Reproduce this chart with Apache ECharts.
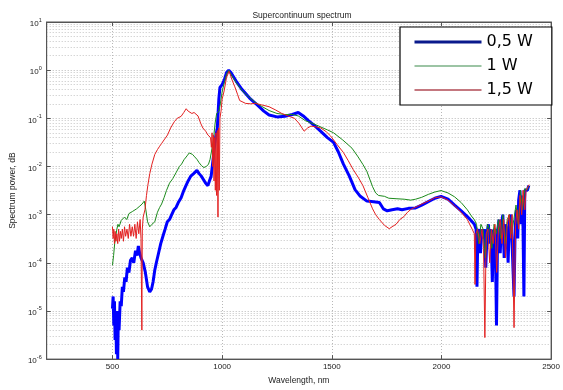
<!DOCTYPE html>
<html>
<head>
<meta charset="utf-8">
<script src="https://cdn.jsdelivr.net/npm/echarts@6/dist/echarts.min.js"></script>
<style>html,body{margin:0;padding:0;background:#fff;}#c{width:563px;height:390px;}</style>
</head>
<body>
<div id="c"></div>
<script>
const titleText = 'Supercontinuum spectrum';
const xName = 'Wavelength, nm';
const yName = 'Spectrum power, dB';
const seriesNames = ['0,5 W', '1 W', '1,5 W'];
const xTicks = [500, 1000, 1500, 2000, 2500];

const blueWl = [500,503,506,509,512,515,518,521,524,527,530,535,540,545,550,556,562,568,575,582,590,597,605,612,618,624,630,640,650,660,670,678,685,693,700,710,720,730,740,750,760,770,780,790,800,813,825,835,845,857,870,885,895,905,916,925,935,942,950,960,970,978,985,990,1000,1010,1020,1030,1040,1063,1090,1125,1160,1190,1214,1250,1286,1320,1347,1370,1392,1420,1450,1480,1508,1530,1553,1580,1606,1630,1660,1690,1717,1735,1753,1775,1800,1820,1850,1882,1910,1940,1970,1998,2030,2060,2090,2118,2140,2150,2158,2162,2166,2172,2178,2184,2190,2196,2202,2208,2214,2220,2226,2232,2238,2245,2251,2256,2262,2268,2274,2280,2286,2292,2298,2304,2310,2316,2322,2331,2336,2342,2348,2352,2358,2364,2370,2376,2380,2386,2392,2398];
const blueVal = [1.12e-5,2.0e-5,5.0e-6,1.58e-5,2.5e-6,1e-5,1.26e-6,7.9e-6,1.0e-6,1e-5,4.0e-6,1.58e-5,1.26e-5,3.16e-5,2.5e-5,5.0e-5,4.0e-5,7.9e-5,6.3e-5,1.12e-4,1.26e-4,1.0e-4,1.78e-4,1.41e-4,2.24e-4,1.58e-4,1.26e-4,1.0e-4,6.3e-5,3.16e-5,2.5e-5,2.82e-5,4.0e-5,7.1e-5,1.0e-4,1.58e-4,2.5e-4,3.55e-4,5.0e-4,7.1e-4,7.9e-4,1.0e-3,1.26e-3,1.41e-3,1.78e-3,2.24e-3,3.16e-3,4.0e-3,5.0e-3,6.3e-3,7.1e-3,8.3e-3,7.1e-3,6.3e-3,5.25e-3,4.47e-3,4.0e-3,5.0e-3,6.3e-3,1.58e-2,3.98e-2,6.3e-2,0.251,0.437,0.5,0.63,0.89,1.0,0.89,0.60,0.40,0.263,0.19,0.141,0.117,0.107,0.110,0.120,0.132,0.112,0.091,0.071,0.0537,0.0398,0.0316,0.02,0.0112,6.3e-3,3.31e-3,2.40e-3,1.91e-3,1.86e-3,1.78e-3,1.32e-3,1.20e-3,1.26e-3,1.32e-3,1.26e-3,1.35e-3,1.38e-3,1.58e-3,1.86e-3,2.19e-3,2.40e-3,2.09e-3,1.58e-3,1.20e-3,9.1e-4,7.1e-4,6.3e-4,5.0e-4,3.2e-5,4.0e-4,5.0e-4,1.58e-4,5.0e-4,3.2e-4,5.0e-4,7.9e-5,4.0e-4,6.3e-4,2.5e-4,5.0e-4,4.0e-5,4.5e-4,5.0e-4,5.0e-6,4.0e-4,7.9e-4,1.58e-4,6.3e-4,1.0e-3,1.26e-4,6.3e-4,5.0e-4,1.0e-4,7.9e-4,1.0e-3,2.5e-4,2.0e-5,5.0e-4,1.26e-3,3.2e-4,2.0e-3,3.2e-3,6.3e-4,2.5e-3,2.0e-5,3.2e-3,3.5e-3,3.2e-3,4.0e-3];

const greenWl = [500,505,510,515,520,525,530,540,546,555,565,575,582,592,600,610,617,625,635,645,652,660,670,680,693,705,715,724,735,746,760,775,791,805,815,826,840,850,857,865,875,885,895,905,916,928,938,945,951,960,968,975,985,992,1000,1010,1020,1030,1045,1063,1090,1125,1160,1214,1250,1286,1320,1347,1380,1420,1450,1480,1508,1550,1592,1620,1642,1660,1686,1700,1713,1740,1760,1793,1830,1860,1882,1910,1940,1970,1998,2030,2060,2090,2118,2140,2150,2160,2170,2180,2190,2200,2210,2220,2230,2240,2250,2260,2270,2280,2290,2300,2310,2320,2330,2340,2350,2360,2370,2380,2390,2398];
const greenVal = [8.9e-5,1.41e-4,2.5e-4,3.55e-4,5.0e-4,6.3e-4,5.6e-4,7.6e-4,7.1e-4,8.9e-4,7.9e-4,1.05e-3,1.0e-3,1.17e-3,1.12e-3,1.32e-3,1.26e-3,1.51e-3,1.66e-3,1.91e-3,1.26e-3,7.1e-4,5.6e-4,6.3e-4,7.1e-4,1.12e-3,1.41e-3,1.66e-3,2.24e-3,3.16e-3,4.5e-3,5.6e-3,7.6e-3,1.0e-2,1.12e-2,1.38e-2,1.66e-2,1.91e-2,2.0e-2,1.78e-2,1.58e-2,1.41e-2,1.20e-2,1.05e-2,9.5e-3,1.0e-2,1.12e-2,1.41e-2,2.0e-2,3.55e-2,7.9e-2,0.126,0.141,0.2,0.355,0.56,0.83,1.0,0.76,0.56,0.38,0.269,0.2,0.145,0.126,0.12,0.12,0.112,0.089,0.076,0.066,0.0575,0.05,0.0355,0.024,0.0158,0.011,7.9e-3,3.8e-3,2.82e-3,2.5e-3,2.4e-3,2.19e-3,2.14e-3,2.09e-3,2.0e-3,2.09e-3,2.29e-3,2.63e-3,2.95e-3,3.16e-3,2.82e-3,2.34e-3,1.78e-3,1.26e-3,8.9e-4,7.9e-4,6.3e-4,2.5e-4,6.3e-4,5.0e-4,1.26e-4,6.3e-4,5.0e-4,2.0e-4,6.3e-4,4.0e-4,7.9e-4,3.2e-4,1.0e-3,2.5e-4,7.9e-4,1.0e-3,4.0e-4,7.9e-4,1.58e-3,6.3e-4,3.2e-3,1.26e-3,3.5e-3,3.2e-3,4.0e-3];

const redWl = [500,503,506,509,512,516,520,524,528,532,536,540,545,550,555,560,566,572,578,584,590,596,602,608,614,620,626,630,634,636,640,648,655,661,670,680,693,705,715,724,735,751,765,782,795,813,825,836,845,852,862,872,880,890,902,912,925,935,947,951,954,957,960,963,966,969,972,975,978,981,984,987,990,995,1000,1009,1020,1032,1045,1058,1070,1080,1107,1130,1152,1180,1214,1245,1272,1300,1330,1350,1374,1390,1405,1430,1450,1475,1495,1525,1553,1575,1597,1620,1642,1665,1686,1700,1717,1740,1762,1775,1793,1810,1829,1845,1864,1890,1910,1940,1970,1998,2030,2060,2090,2118,2140,2150,2153,2157,2165,2175,2185,2192,2198,2204,2212,2220,2228,2236,2244,2252,2260,2268,2276,2284,2292,2300,2308,2316,2322,2331,2338,2345,2352,2358,2366,2372,2380,2386,2392,2400];
const redVal = [5.6e-4,3.2e-4,5.0e-4,2.5e-4,4.5e-4,2.8e-4,4.0e-4,2.5e-4,5.0e-4,2.8e-4,4.5e-4,3.2e-4,5.0e-4,2.8e-4,5.6e-4,3.55e-4,5.0e-4,3.2e-4,6.3e-4,3.55e-4,5.6e-4,3.55e-4,6.3e-4,3.2e-4,7.1e-4,4.0e-4,7.9e-4,3.2e-4,4.0e-6,5.0e-4,8.9e-4,1.26e-3,2.5e-3,4.0e-3,7.1e-3,1.12e-2,1.78e-2,2.24e-2,2.63e-2,3.0e-2,3.55e-2,4.5e-2,6.3e-2,8.5e-2,0.1,0.11,0.132,0.158,0.141,0.151,0.126,0.132,0.138,0.112,0.079,0.063,0.054,0.045,0.04,0.025,0.05,0.01,0.045,5.0e-3,0.04,3.2e-3,0.05,2.5e-3,0.056,8.9e-4,0.063,3.2e-3,0.1,0.141,0.25,0.37,0.71,0.95,0.63,0.45,0.316,0.234,0.204,0.2,0.204,0.19,0.174,0.148,0.126,0.112,0.1,0.079,0.054,0.063,0.069,0.066,0.063,0.0525,0.0427,0.0282,0.0195,0.0132,8.7e-3,6.0e-3,4.0e-3,2.24e-3,1.32e-3,1.0e-3,7.9e-4,6.0e-4,5.1e-4,5.6e-4,6.3e-4,7.9e-4,9.1e-4,1.12e-3,1.32e-3,1.48e-3,1.66e-3,1.91e-3,2.24e-3,2.34e-3,2.0e-3,1.51e-3,1.12e-3,7.9e-4,5.0e-4,4.0e-4,3.55e-5,4.0e-4,5.0e-4,2.5e-4,5.0e-4,2.0e-4,2.8e-6,4.0e-4,5.0e-4,1.0e-4,5.0e-4,2.5e-4,6.3e-4,6.3e-5,5.0e-4,7.9e-4,2.5e-4,7.9e-4,1.26e-4,6.3e-4,1.0e-3,3.2e-4,1.0e-3,4.5e-6,6.3e-4,1.26e-3,5.0e-4,2.5e-3,1.0e-3,3.2e-3,1.26e-3,3.2e-3,3.5e-3,4.2e-3];

function zip(a, b) { return a.map((x, i) => [x, b[i]]); }

const chart = echarts.init(document.getElementById('c'), null, {renderer: 'canvas'});
const gridLine = {show: true, lineStyle: {color: '#b8b8b8', type: [1, 2], width: 1}};
const supLabel = function (v) {
  const e = Math.round(Math.log10(v));
  return '{b|10}{s|' + e + '}';
};
const font = 'Liberation Sans, Arial, sans-serif';
const hidden = {color: 'rgba(0,0,0,0)', borderColor: 'rgba(0,0,0,0)', borderWidth: 0};

chart.setOption({
  animation: false,
  backgroundColor: '#ffffff',
  title: {
    text: titleText, left: 297, top: 6, textAlign: 'center',
    textStyle: {fontSize: 8.5, fontWeight: 'normal', color: '#222', fontFamily: font}
  },
  grid: {left: 39, right: 8, top: 22, bottom: 23, show: true, borderColor: '#555', borderWidth: 1, backgroundColor: 'transparent'},
  legend: {
    data: [
      {name: seriesNames[0], itemStyle: hidden, lineStyle: {color: '#0a1a8c', width: 3}},
      {name: seriesNames[1], itemStyle: hidden, lineStyle: {color: '#3a8a4a', width: 1.2}},
      {name: seriesNames[2], itemStyle: hidden, lineStyle: {color: '#b04a55', width: 1.5}}
    ],
    orient: 'vertical',
    left: 400, top: 27,
    padding: [7, 19, 7, 13],
    itemWidth: 67, itemHeight: 14, itemGap: 8,
    backgroundColor: '#fff', borderColor: '#000', borderWidth: 1.2,
    textStyle: {fontSize: 16, color: '#000', fontFamily: 'DejaVu Sans, sans-serif'},
    selectedMode: false
  },
  xAxis: [{
    type: 'value', min: 200, max: 2500,
    name: xName, nameLocation: 'middle', nameGap: 16,
    nameTextStyle: {fontSize: 8.5, color: '#222', fontFamily: font},
    axisLine: {show: true, lineStyle: {color: '#555'}},
    axisTick: {show: true, inside: true, length: 4, customValues: xTicks, lineStyle: {color: '#555'}},
    axisLabel: {customValues: xTicks, formatter: v => String(v), fontSize: 8, color: '#222', margin: 4, fontFamily: font},
    splitLine: gridLine
  }, {
    type: 'value', min: 200, max: 2500, position: 'top',
    axisLine: {show: true, lineStyle: {color: '#555'}},
    axisTick: {show: true, inside: true, length: 4, customValues: xTicks, lineStyle: {color: '#555'}},
    axisLabel: {show: false, customValues: xTicks},
    splitLine: {show: false}
  }],
  yAxis: [{
    type: 'log', logBase: 10, min: 1e-6, max: 10,
    name: yName, nameLocation: 'middle', nameGap: 24,
    nameTextStyle: {fontSize: 8.5, color: '#222', fontFamily: font},
    axisLine: {show: true, lineStyle: {color: '#555'}},
    axisTick: {show: true, inside: true, length: 4, lineStyle: {color: '#555'}},
    minorTick: {show: false, splitNumber: 9},
    axisLabel: {
      formatter: supLabel, margin: 5, color: '#222',
      rich: {
        b: {fontSize: 8, fontFamily: font, color: '#222', verticalAlign: 'bottom', lineHeight: 12},
        s: {fontSize: 5.5, fontFamily: font, color: '#222', verticalAlign: 'bottom', lineHeight: 12, padding: [0, 0, 5, 0]}
      }
    },
    splitLine: gridLine,
    minorSplitLine: {show: true, lineStyle: {color: '#c4c4c4', type: [1, 2], width: 1}}
  }, {
    type: 'log', logBase: 10, min: 1e-6, max: 10, position: 'right',
    axisLine: {show: true, lineStyle: {color: '#555'}},
    axisTick: {show: true, inside: true, length: 4, lineStyle: {color: '#555'}},
    axisLabel: {show: false},
    splitLine: {show: false}
  }],
  series: [{
    name: seriesNames[0], type: 'line', data: zip(blueWl, blueVal),
    symbol: 'none', lineStyle: {color: '#0000ff', width: 3}, itemStyle: {color: '#0a1a8c'}
  }, {
    name: seriesNames[1], type: 'line', data: zip(greenWl, greenVal),
    symbol: 'none', lineStyle: {color: '#1b8a1b', width: 1}, itemStyle: {color: '#3a8a4a'}
  }, {
    name: seriesNames[2], type: 'line', data: zip(redWl, redVal),
    symbol: 'none', lineStyle: {color: '#e32020', width: 1}, itemStyle: {color: '#b04a55'}
  }]
});
</script>
</body>
</html>
